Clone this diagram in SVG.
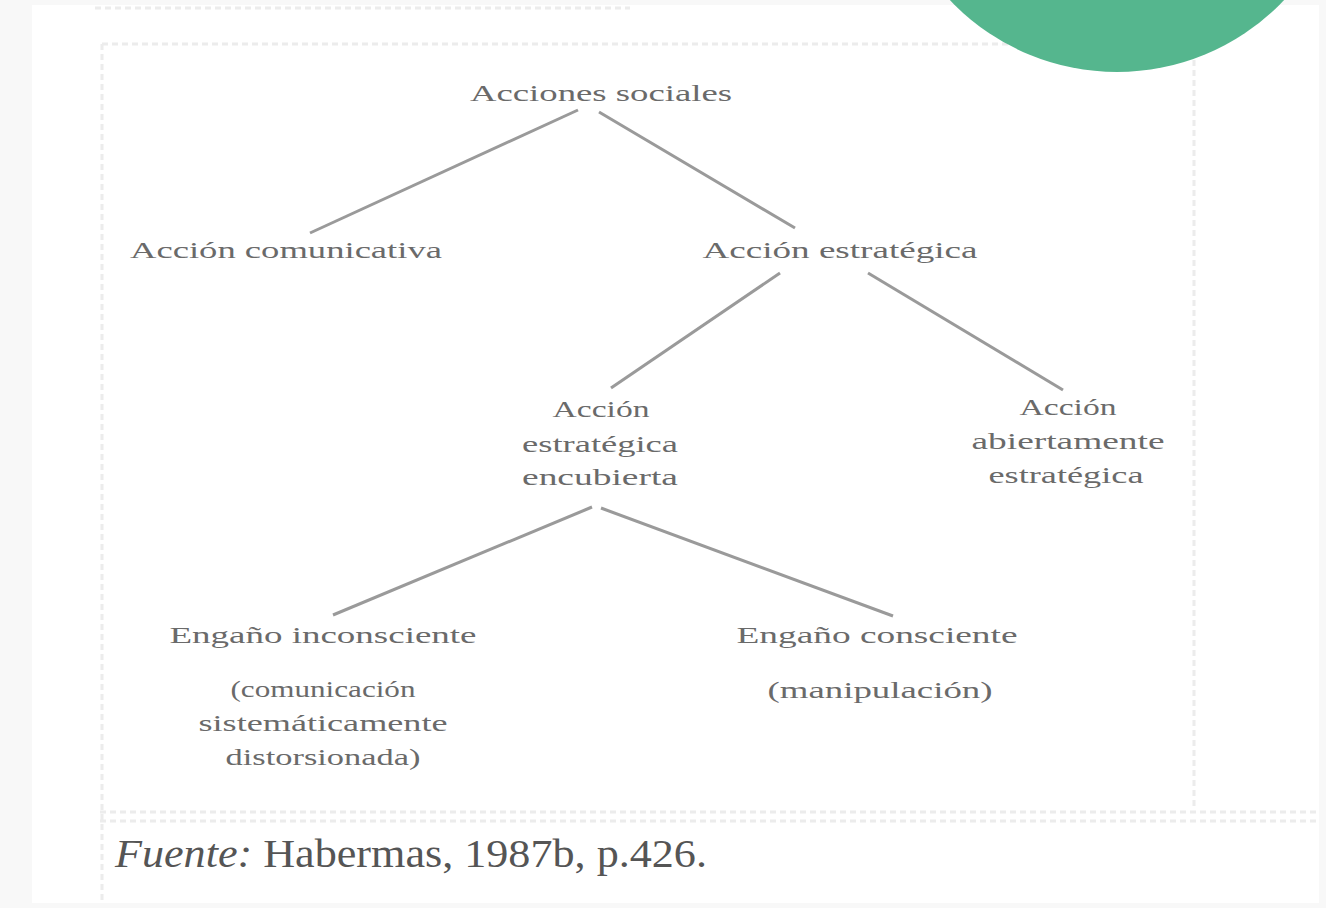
<svg xmlns="http://www.w3.org/2000/svg" width="1326" height="908" viewBox="0 0 1326 908">
<style>
.t{font-family:"Liberation Serif","Times New Roman",serif;font-size:23px;fill:#6a6a6a;text-anchor:middle}
.c{stroke:#9a9a9a;stroke-width:3;fill:none}
.b{stroke:#ececec;stroke-width:3;fill:none;stroke-dasharray:6 4}
</style>
<rect x="0" y="0" width="1326" height="908" fill="#f8f8f8"/>
<rect x="32" y="5" width="1287" height="898" fill="#ffffff"/>
<g id="frame">
<path class="b" d="M95 8 H630"/>
<path class="b" d="M102 44 H1200"/>
<path class="b" d="M102 44 V900"/>
<path class="b" d="M1194 60 V810"/>
<path class="b" d="M100 812 H1316"/>
<path class="b" d="M100 821 H1316"/>
</g>
<circle id="deco" cx="1117" cy="-158" r="230" fill="#55b68e"/>
<g id="connectors">
<line class="c" x1="578" y1="110" x2="310" y2="233"/>
<line class="c" x1="599" y1="112" x2="795" y2="228"/>
<line class="c" x1="780" y1="273" x2="611" y2="388"/>
<line class="c" x1="868" y1="273" x2="1063" y2="390"/>
<line class="c" x1="592" y1="507" x2="333" y2="615"/>
<line class="c" x1="601" y1="508" x2="893" y2="616"/>
</g>
<g id="n1"><text class="t" x="601" y="101" textLength="262" lengthAdjust="spacingAndGlyphs">Acciones sociales</text></g>
<g id="n2"><text class="t" x="286" y="258" textLength="312" lengthAdjust="spacingAndGlyphs">Acción comunicativa</text></g>
<g id="n3"><text class="t" x="840" y="258" textLength="275" lengthAdjust="spacingAndGlyphs">Acción estratégica</text></g>
<g id="n4">
<text class="t" x="601" y="417" textLength="97" lengthAdjust="spacingAndGlyphs">Acción</text>
<text class="t" x="600" y="452" textLength="156" lengthAdjust="spacingAndGlyphs">estratégica</text>
<text class="t" x="600" y="485" textLength="156" lengthAdjust="spacingAndGlyphs">encubierta</text>
</g>
<g id="n5">
<text class="t" x="1068" y="415" textLength="97" lengthAdjust="spacingAndGlyphs">Acción</text>
<text class="t" x="1068" y="449" textLength="193" lengthAdjust="spacingAndGlyphs">abiertamente</text>
<text class="t" x="1066" y="483" textLength="155" lengthAdjust="spacingAndGlyphs">estratégica</text>
</g>
<g id="n6">
<text class="t" x="323" y="643" textLength="307" lengthAdjust="spacingAndGlyphs">Engaño inconsciente</text>
<text class="t" x="323" y="697" textLength="185" lengthAdjust="spacingAndGlyphs">(comunicación</text>
<text class="t" x="323" y="731" textLength="249" lengthAdjust="spacingAndGlyphs">sistemáticamente</text>
<text class="t" x="323" y="765" textLength="195" lengthAdjust="spacingAndGlyphs">distorsionada)</text>
</g>
<g id="n7">
<text class="t" x="877" y="643" textLength="281" lengthAdjust="spacingAndGlyphs">Engaño consciente</text>
<text class="t" x="880" y="698" textLength="225" lengthAdjust="spacingAndGlyphs">(manipulación)</text>
</g>
<g id="source">
<text x="115" y="867" font-family="'Liberation Serif','Times New Roman',serif" font-size="40" fill="#555" textLength="592" lengthAdjust="spacingAndGlyphs"><tspan font-style="italic">Fuente:</tspan> Habermas, 1987b, p.426.</text>
</g>
</svg>
